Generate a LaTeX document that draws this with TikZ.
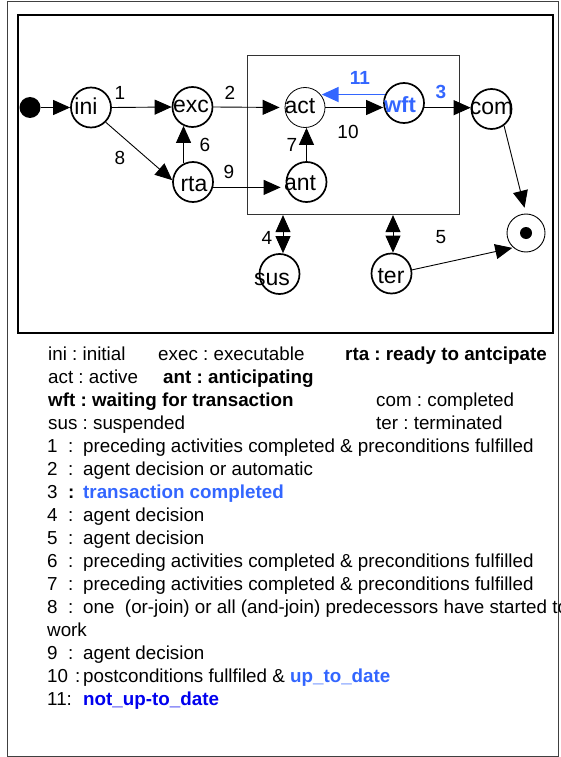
\documentclass[tikz,border=0pt]{standalone}
\usepackage{fontspec}
\setmainfont{Liberation Sans}
\usetikzlibrary{arrows.meta,calc}
\definecolor{lblue}{RGB}{51,102,255}
\definecolor{dblue}{RGB}{0,0,238}
\newcommand\lgline[2]{\makebox[21pt][l]{#1}\makebox[15pt][l]{:}#2}
\frenchspacing
\begin{document}
\begin{tikzpicture}[x=1pt,y=-1pt,
  st/.style={circle,draw,line width=1.7pt,minimum size=40pt,inner sep=0pt},
  nt/.style={font=\fontsize{23}{23}\selectfont,inner sep=0pt},
  el/.style={font=\fontsize{19}{19}\selectfont,inner sep=0pt},
  tip/.tip={Triangle[length=17pt,width=15pt]},
  arr/.style={line width=0.9pt,-tip},
  dbl/.style={line width=0.9pt,tip-tip},
  lg/.style={font=\fontsize{18.8}{18.8}\selectfont,anchor=base west,inner sep=0pt},
]
\useasboundingbox (0,0) rectangle (560,757);
% frames
\draw[line width=1pt,black!75] (7,2) rectangle (558,756);
\draw[line width=1.1pt] (18,15) rectangle (553,333);
\node[draw,line width=1.1pt,black!80,anchor=north west,minimum width=212pt,minimum height=159pt,inner sep=0pt] (box) at (247,55) {};
% states
\node[circle,fill,minimum size=21pt,inner sep=0pt] (start) at (30,107.5) {};
\node[st] (ini) at (91,107.5) {};
\node[st] (exc) at (192.5,107) {};
\node[st,line width=0.8pt] (act) at (305,107.5) {};
\node[st] (wft) at (404,103) {};
\node[st] (com) at (491.5,109) {};
\node[st] (rta) at (193,182) {};
\node[st] (ant) at (306.5,182) {};
\node[st] (sus) at (279.5,274) {};
\node[st] (ter) at (391.5,273.5) {};
\node[circle,draw,line width=0.9pt,minimum size=38pt,inner sep=0pt] (end) at (526,233) {};
\node[circle,fill,minimum size=12pt,inner sep=0pt] (enddot) at (526,233) {};
% state texts
\node[nt] (tini) at (86,106) {ini};
\node[nt] (texc) at (191,106) {exc};
\node[nt] (tact) at (300,106) {act};
\node[nt,text=lblue,font=\fontsize{22}{22}\selectfont\bfseries] (twft) at (400,105) {wft};
\node[nt] (tcom) at (491.5,108) {com};
\node[nt] (trta) at (194,184) {rta};
\node[nt] (tant) at (300,183) {ant};
\node[nt] (tsus) at (272,279) {sus};
\node[nt] (tter) at (391,276) {ter};
% connectors
\draw[arr] (start.east) -- (ini.west);
\draw[arr] (ini.east) -- (exc.west);
\draw[arr,shorten >=5pt] (exc.east) -- (act.west);
\draw[arr] (ini.-45) -- (rta.175);
\draw[arr] (rta.117) -- (rta.117 |- exc.245);
\draw[arr,shorten >=5pt] (rta.-15) -- (rta.-15 -| ant.west);
\draw[arr] (ant.north) -- (ant.north |- act.south);
\draw[arr] (act.east) -- (act.east -| wft.west);
\draw[line width=1.8pt,lblue,-{Triangle[length=17pt,width=15pt]}] (wft.156) -- (wft.156 -| act.35);
\draw[arr] (wft.-13) -- (wft.-13 -| com.west);
\draw[arr,shorten >=6pt] (com.-53) -- (end.north);
\draw[arr,shorten >=1pt] (ter.10) -- (end.229);
\coordinate (b4) at ($(box.south west)+(36,0)$);
\coordinate (b5) at ($(box.south west)+(146,0)$);
\draw[dbl] (b4) -- (b4 |- sus.north);
\draw[dbl] (b5) -- (b5 |- ter.north);
% edge labels
\node[el] (e1) at (120,93) {1};
\node[el] (e2) at (230,93) {2};
\node[el] (e8) at (120,158) {8};
\node[el] (e6) at (205,145) {6};
\node[el] (e9) at (229,172) {9};
\node[el] (e7) at (292,145) {7};
\node[el] (e10) at (348,132) {10};
\node[el,text=lblue,font=\fontsize{19}{19}\selectfont\bfseries] (e11) at (360,78) {11};
\node[el,text=lblue,font=\fontsize{19}{19}\selectfont\bfseries] (e3) at (441,92) {3};
\node[el] (e4) at (267,238) {4};
\node[el] (e5) at (441,237) {5};
% legend
\node[lg] (g1) at (48,360) {ini : initial};
\node[lg] (g2) at (158,360) {exec : executable};
\node[lg] (g3) at (345,360) {\bfseries rta : ready to antcipate};
\node[lg] (g4) at (48,383) {act : active};
\node[lg] (g5) at (163,383) {\bfseries ant : anticipating};
\node[lg] (g6) at (48,406) {\bfseries wft : waiting for transaction};
\node[lg] (g7) at (376,406) {com : completed};
\node[lg] (g8) at (48,429) {sus : suspended};
\node[lg] (g9) at (376,429) {ter : terminated};
\node[lg] (n1) at (47,452) {\lgline{1}{preceding activities completed \& preconditions fulfilled}};
\node[lg] (n2) at (47,475) {\lgline{2}{agent decision or automatic}};
\node[lg] (n3) at (47,498) {\makebox[21pt][l]{3}\makebox[15pt][l]{\bfseries :}{\color{lblue}\bfseries transaction completed}};
\node[lg] (n4) at (47,521) {\lgline{4}{agent decision}};
\node[lg] (n5) at (47,544) {\lgline{5}{agent decision}};
\node[lg] (n6) at (47,567) {\lgline{6}{preceding activities completed \& preconditions fulfilled}};
\node[lg] (n7) at (47,590) {\lgline{7}{preceding activities completed \& preconditions fulfilled}};
\node[lg] (n8) at (47,613) {\lgline{8}{one\ \ (or-join) or all (and-join) predecessors have started to}};
\node[lg] (n8b) at (47,636) {work};
\node[lg] (n9) at (47,659) {\lgline{9}{agent decision}};
\node[lg] (n10) at (47,682) {\makebox[28pt][l]{10}\makebox[8pt][l]{:}postconditions fullfiled \& {\color{lblue}\bfseries up\_to\_date}};
\node[lg] (n11) at (47,705) {\makebox[36pt][l]{11:}{\color{dblue}\bfseries not\_up-to\_date}};
\end{tikzpicture}
\end{document}
